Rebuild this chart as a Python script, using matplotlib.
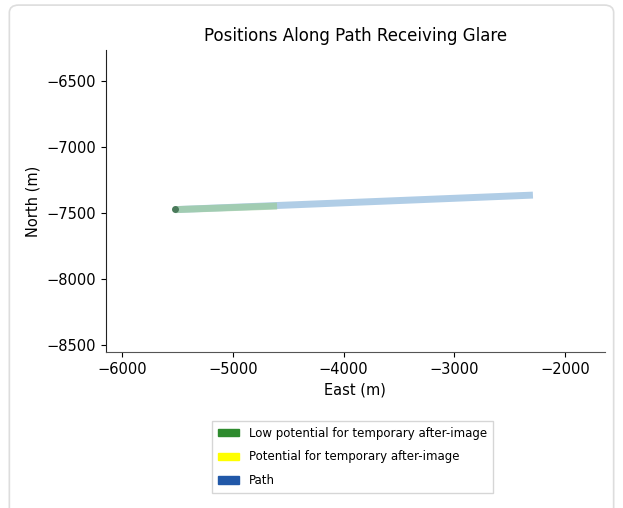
import numpy as np
import matplotlib.pyplot as plt
import matplotlib.patches as mpatches

# path endpoints (east, north) in metres
path_east = [-5520, -2290]
path_north = [-7475, -7365]

# section of path receiving low potential glare
glare_east = [-5520, -4600]
glare_north = [-7475, -7448]

start_east = [-5520]
start_north = [-7470]

fig = plt.figure(figsize=(6.23, 5.08), dpi=100)
ax = fig.add_axes([0.170, 0.307, 0.801, 0.595])

ax.plot(path_east, path_north, color='#8fb8dc', lw=5, alpha=0.7, solid_capstyle='butt')
ax.plot(glare_east, glare_north, color='#9ccc9c', lw=5, alpha=0.7, solid_capstyle='butt')
ax.plot(start_east, start_north, 'o', color='#4a7a5a', ms=4)

ax.set_xlim(-6145, -1640)
ax.set_ylim(-8553, -6265)
ax.set_xticks([-6000, -5000, -4000, -3000, -2000])
ax.set_yticks([-8500, -8000, -7500, -7000, -6500])
ax.spines['top'].set_visible(False)
ax.spines['right'].set_visible(False)
ax.spines['bottom'].set_color('#555555')
ax.spines['left'].set_color('#222222')
ax.tick_params(labelsize=10.5)

ax.set_title("Positions Along Path Receiving Glare", fontsize=12, pad=6)
ax.set_xlabel("East (m)", fontsize=10.5)
ax.set_ylabel("North (m)", fontsize=10.5)

handles = [
    mpatches.Patch(color='#2e8b2e', label='Low potential for temporary after-image'),
    mpatches.Patch(color='#ffff00', label='Potential for temporary after-image'),
    mpatches.Patch(color='#2158a8', label='Path'),
]
leg = fig.legend(handles=handles, loc='upper center', bbox_to_anchor=(0.566, 0.183),
                 fontsize=8.5, frameon=True, fancybox=False, handlelength=1.8,
                 handleheight=0.6, borderpad=0.5, labelspacing=0.9)
leg.get_frame().set_edgecolor('#cccccc')

# light rounded border around the picture
border = mpatches.FancyBboxPatch((0.015, -0.05), 0.97, 1.04, transform=fig.transFigure,
                                 boxstyle='round,pad=0,rounding_size=0.015',
                                 fill=False, edgecolor='#dddddd', lw=1.2)
fig.patches.append(border)

fig.savefig('out.png', dpi=100)
